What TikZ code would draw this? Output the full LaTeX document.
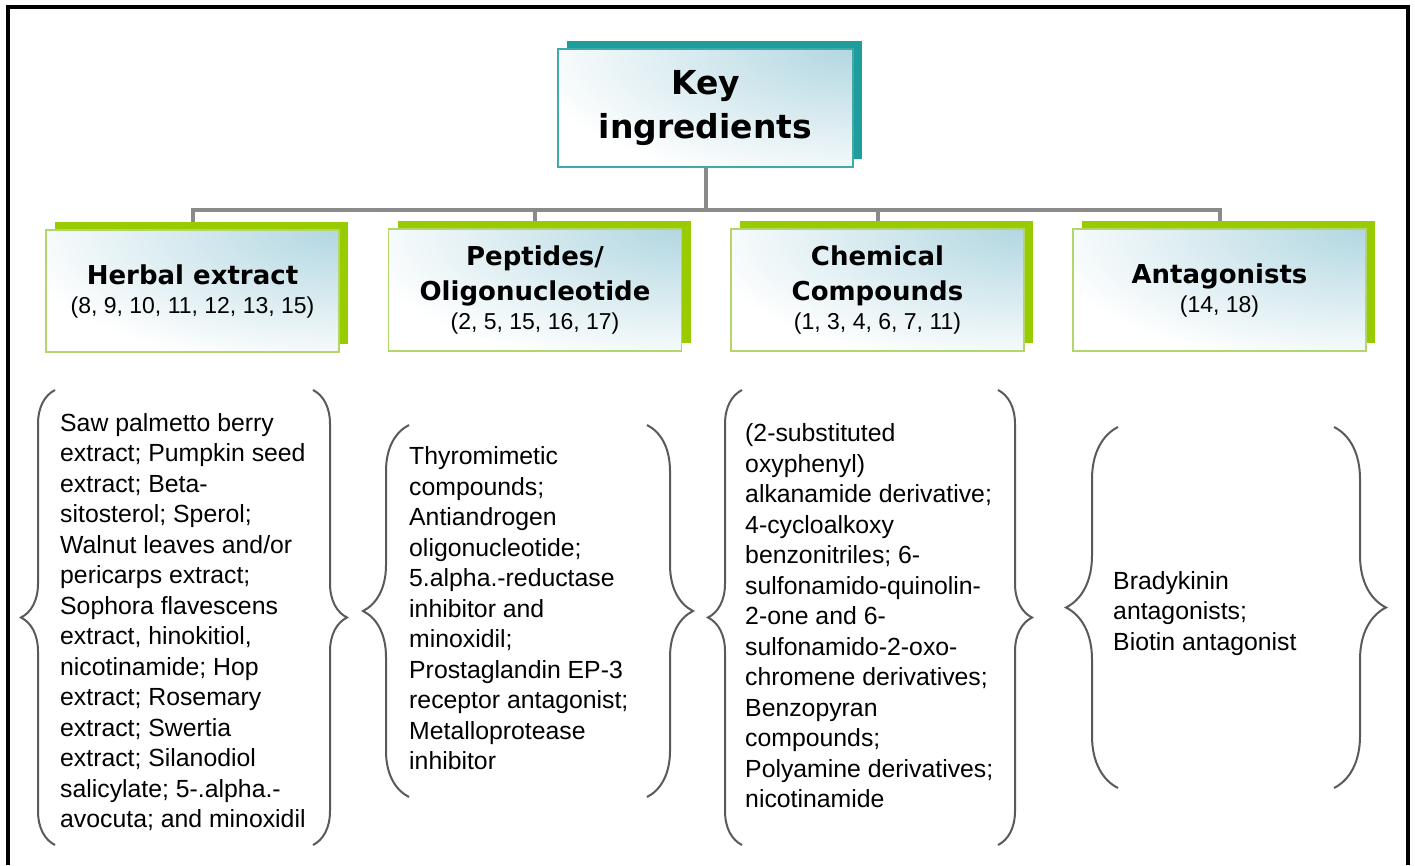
\documentclass[tikz,border=0pt]{standalone}
\usepackage{fontspec}
\setmainfont{Liberation Sans}
\newfontfamily\headfont{DejaVu Sans}
\usetikzlibrary{positioning, shadows, decorations.pathreplacing, backgrounds}
\definecolor{mTeal}{HTML}{1F9C9C}
\definecolor{mTealEdge}{HTML}{3FAAAA}
\definecolor{mGreen}{HTML}{99CC00}
\definecolor{mGreenEdge}{HTML}{B2D66A}
\definecolor{mSky}{HTML}{B2D7E1}
\definecolor{mGray}{HTML}{8A8A8A}
\definecolor{mBrace}{HTML}{5A5A5A}
\newcommand{\refsize}{\rmfamily\mdseries\fontsize{23}{28}\selectfont}

\begin{document}
\begin{tikzpicture}[
  x=1pt, y=-1pt,
  glow/.style={fill=white, path picture={\shade[inner color=mSky, outer color=white]
    (path picture bounding box.north east) ellipse [x radius=330pt, y radius=140pt];}},
  rootbox/.style={glow, draw=mTealEdge, line width=1.2pt,
    general shadow={shadow xshift=9pt, shadow yshift=8pt, fill=mTeal},
    minimum width=295pt, minimum height=118pt, align=center,
    font=\headfont\bfseries\fontsize{33}{44}\selectfont},
  catbox/.style={glow, draw=mGreenEdge, line width=1.2pt,
    general shadow={shadow xshift=9pt, shadow yshift=8pt, fill=mGreen},
    minimum width=293pt, minimum height=122pt, align=center,
    font=\headfont\bfseries\fontsize{26}{35}\selectfont},
  tree/.style={draw=mGray, line width=4pt},
  curly/.style={draw=mBrace, line width=2pt, decorate, decoration={brace, amplitude=#1}},
  items/.style={anchor=west, align=left, inner sep=0pt, font=\fontsize{24.8}{30.5}\selectfont},
]
  \useasboundingbox (0,0) rectangle (1415,865);

  \node[rootbox] (key) at (705.5,108) {Key\\ingredients};

  \node[catbox] (herbal) at (192.5,291)
    {Herbal extract\\[-6pt]{\refsize (8, 9, 10, 11, 12, 13, 15)}};
  \node[catbox] (peptides) at (535,290)
    {Peptides/\\Oligonucleotide\\[-6pt]{\refsize (2, 5, 15, 16, 17)}};
  \node[catbox] (chemical) at (877.5,290)
    {Chemical\\Compounds\\[-6pt]{\refsize (1, 3, 4, 6, 7, 11)}};
  \node[catbox] (antagonists) at (1219.5,290)
    {Antagonists\\[-6pt]{\refsize (14, 18)}};

  \node[items] (herbalItems) at (60,622)
    {Saw palmetto berry\\extract; Pumpkin seed\\extract; Beta-\\sitosterol; Sperol;\\
     Walnut leaves and/or\\pericarps extract;\\Sophora flavescens\\extract, hinokitiol,\\
     nicotinamide; Hop\\extract; Rosemary\\extract; Swertia\\extract; Silanodiol\\
     salicylate; 5-.alpha.-\\avocuta; and minoxidil};
  \node[items] (peptideItems) at (409,608.5)
    {Thyromimetic\\compounds;\\Antiandrogen\\oligonucleotide;\\5.alpha.-reductase\\
     inhibitor and\\minoxidil;\\Prostaglandin EP-3\\receptor antagonist;\\
     Metalloprotease\\inhibitor};
  \node[items] (chemicalItems) at (745,616)
    {(2-substituted\\oxyphenyl)\\alkanamide derivative;\\4-cycloalkoxy\\
     benzonitriles; 6-\\sulfonamido-quinolin-\\2-one and 6-\\sulfonamido-2-oxo-\\
     chromene derivatives;\\Benzopyran\\compounds;\\Polyamine derivatives;\\nicotinamide};
  \node[items] (antagonistItems) at (1113,613.5)
    {Bradykinin\\antagonists;\\Biotin antagonist};

  \draw[curly=34] (55,845) -- (55,390);
  \draw[curly=34] (313,390) -- (313,845);
  \draw[curly=46] (409,797) -- (409,425);
  \draw[curly=46] (647,425) -- (647,797);
  \draw[curly=34] (742,845) -- (742,390);
  \draw[curly=34] (998,390) -- (998,845);
  \draw[curly=52] (1118,788) -- (1118,427);
  \draw[curly=52] (1334,427) -- (1334,788);

  \draw[line width=3.5pt] (8,865) -- (8,7) -- (1408,7) -- (1408,865);

  \begin{scope}[on background layer]
    \fill[white] (0,0) rectangle (1415,865);
    \coordinate (bus) at (key.south |- 0,210);
    \draw[tree] (key.south) -- (bus) -| (herbal.north);
    \draw[tree] (bus) -| (peptides.north);
    \draw[tree] (bus) -| (chemical.north);
    \draw[tree] (bus) -| (antagonists.north);
  \end{scope}
\end{tikzpicture}
\end{document}
